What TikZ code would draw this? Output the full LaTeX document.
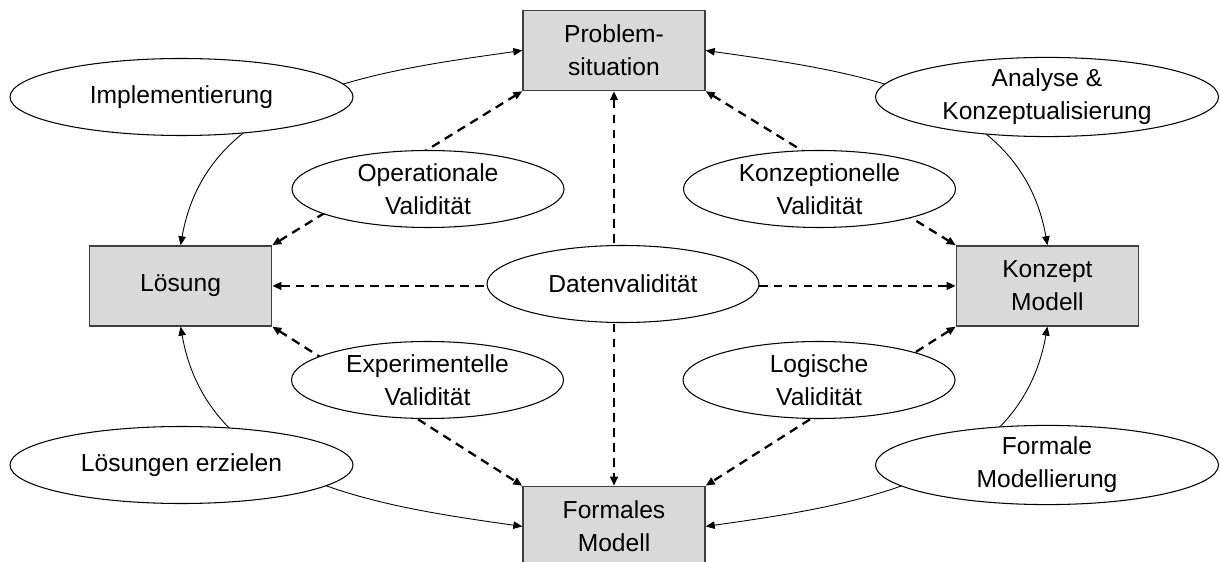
\documentclass[tikz,border=0pt]{standalone}
\usepackage{fontspec}
\setmainfont{Liberation Sans}
\usetikzlibrary{positioning,shapes.geometric,arrows.meta}
\definecolor{boxgray}{RGB}{217,217,217}
\tikzset{
    stage/.style={
        rectangle,
        draw=black!75,
        fill=boxgray,
        line width=0.8pt,
        align=center,
        inner sep=0pt,
        minimum width=3.64cm,
        minimum height=1.6cm
    },
    activity/.style={
        ellipse,
        draw=black,
        fill=white,
        line width=0.6pt,
        align=center,
        inner sep=0pt,
        minimum width=5.44cm,
        minimum height=1.54cm
    },
    flow/.style={
        <->,
        >={Triangle[length=1.8mm,width=1.5mm]},
        line width=0.5pt
    },
    check/.style={
        <->,
        >={Triangle[length=1.8mm,width=1.5mm]},
        line width=1.3pt,
        dash pattern=on 5pt off 3.5pt
    }
}

\begin{document}
\begin{tikzpicture}[font=\fontsize{14}{18.8}\selectfont]
  \useasboundingbox (0,0) rectangle (24.4,-11.24);
  % Zustaende
  \node (prob) [stage] at (12.28,-1.01) {Problem-\\situation};
  \node (loes) [stage, below left=3.08cm and 5cm of prob] {Lösung};
  \node (konz) [stage, below right=3.08cm and 5cm of prob] {Konzept\\Modell};
  \node (form) [stage, below=7.89cm of prob] {Formales\\Modell};
  % Uebergaenge
  \draw [flow] (loes.north) to[out=80,in=188] (prob.west);
  \draw [flow] (konz.north) to[out=100,in=-8] (prob.east);
  \draw [flow] (loes.south) to[out=-80,in=172] (form.west);
  \draw [flow] (konz.south) to[out=-100,in=8] (form.east);
  % Validitaet
  \draw [check] (loes.north east) -- (prob.south west);
  \draw [check] (prob.south east) -- (konz.north west);
  \draw [check] (loes.south east) -- (form.north west);
  \draw [check] (konz.south west) -- (form.north east);
  \draw [check] (loes) -- (konz);
  \draw [check] (prob) -- (form);
  % Taetigkeiten
  \node (impl) [activity, minimum width=6.86cm] at (3.63,-1.94) {Implementierung};
  \node (anal) [activity, minimum width=6.86cm] at (20.94,-1.94) {Analyse \&\\Konzeptualisierung};
  \node (erz) [activity, minimum width=6.86cm] at (3.63,-9.3) {Lösungen erzielen};
  \node (fmod) [activity, minimum width=6.86cm] at (20.94,-9.3) {Formale\\Modellierung};
  \node (oval) [activity] at (8.56,-3.78) {Operationale\\Validität};
  \node (kval) [activity] at (16.39,-3.78) {Konzeptionelle\\Validität};
  \node (dval) [activity] at (12.46,-5.68) {Datenvalidität};
  \node (eval) [activity] at (8.55,-7.6) {Experimentelle\\Validität};
  \node (lval) [activity] at (16.38,-7.6) {Logische\\Validität};
\end{tikzpicture}
\end{document}
